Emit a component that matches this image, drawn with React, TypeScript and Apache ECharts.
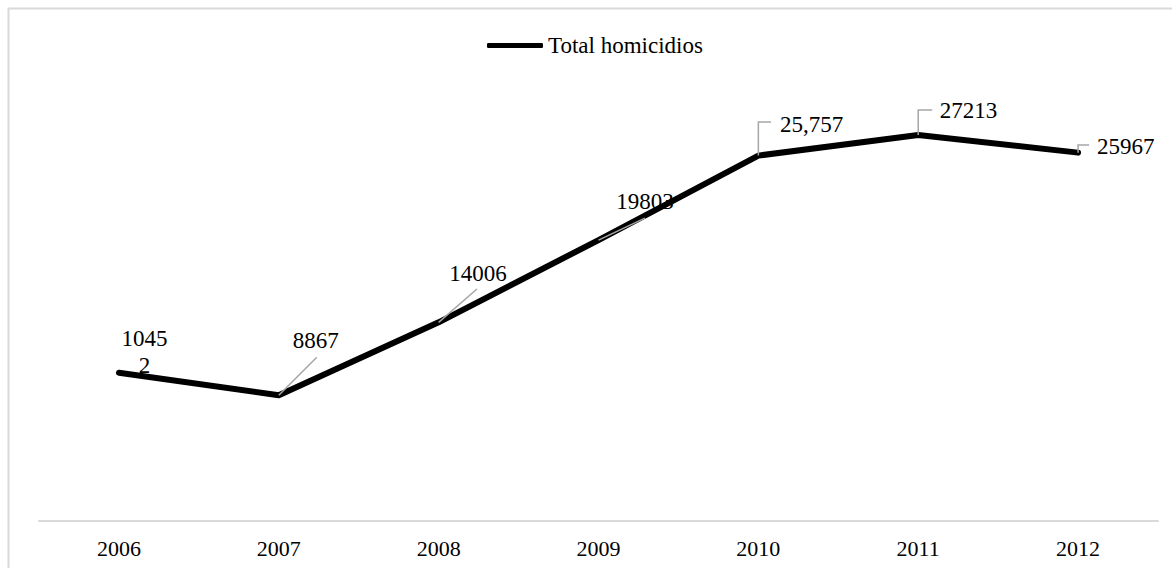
import React, { useEffect, useRef } from "react";
import * as echarts from "echarts";

const years = ["2006", "2007", "2008", "2009", "2010", "2011", "2012"];
const homicides = [10452, 8867, 14006, 19803, 25757, 27213, 25967];
const labelTexts = ["1045\n2", "8867", "14006", "19803", "25,757", "27213", "25967"];
const seriesName = "Total homicidios";

// label centre offsets from each point (px)
const labelOffsets: number[][] = [
  [25.5, -21],
  [37, -54.7],
  [39.3, -48.8],
  [46.4, -38.6],
  [53.2, -31.6],
  [50.4, -24.5],
  [47.6, -6.2],
];
// leader line shapes relative to each point (px)
const leaderShapes: (number[][] | null)[] = [
  null,
  [[0, 0], [38, -38]],
  [[0, 0], [38.3, -33.3]],
  [[0, 0], [46.4, -22]],
  [[0, 0], [0, -33.6], [12.6, -33.6]],
  [[0, 0], [0, -25], [14, -25]],
  [[0, 0], [0, -7.7], [11, -7.7]],
];

const FONT = "'Liberation Serif', 'Times New Roman', serif";

export default function App() {
  const ref = useRef<HTMLDivElement>(null);
  useEffect(() => {
    if (!ref.current) return;
    const chart = echarts.init(ref.current, null, { renderer: "svg" });
    const border = {
      type: "rect",
      shape: { x: 8.5, y: 8.5, width: 1250, height: 650 },
      style: { fill: null, stroke: "#d9d9d9", lineWidth: 2 },
      z: -10,
      silent: true,
    };
    chart.setOption({
      animation: false,
      backgroundColor: "#fff",
      grid: { left: 39, right: 14, top: 24.5, bottom: 47, containLabel: false },
      legend: {
        data: [{ name: seriesName, icon: "roundRect" }],
        left: 487,
        top: 34,
        padding: 0,
        itemWidth: 56,
        itemHeight: 5,
        itemGap: 5,
        textStyle: { fontFamily: FONT, fontSize: 23, color: "#000", padding: [2, 0, 0, 0] },
      },
      xAxis: {
        type: "category",
        data: years,
        boundaryGap: true,
        axisLine: { show: true, lineStyle: { color: "#d9d9d9", width: 2 } },
        axisTick: { show: false },
        axisLabel: { fontFamily: FONT, fontSize: 22, color: "#000", margin: 16 },
        splitLine: { show: false },
      },
      yAxis: { type: "value", min: 0, max: 35000, show: false },
      graphic: [border],
      series: [
        {
          name: seriesName,
          type: "line",
          color: "#000",
          symbol: "circle",
          symbolSize: 1,
          showSymbol: true,
          lineStyle: { width: 6, color: "#000", cap: "round", join: "round" },
          itemStyle: { color: "#000" },
          label: {
            show: true,
            position: "inside",
            align: "center",
            verticalAlign: "middle",
            fontFamily: FONT,
            fontSize: 23,
            lineHeight: 27,
            color: "#000",
          },
          data: homicides.map((v, i) => ({
            value: v,
            label: { formatter: labelTexts[i], offset: labelOffsets[i] },
          })),
          z: 2,
        },
      ],
    });
    const graphics: any[] = [border];
    homicides.forEach((v, i) => {
      const shape = leaderShapes[i];
      if (!shape) return;
      const p = chart.convertToPixel({ seriesIndex: 0 }, [i, v]) as number[];
      graphics.push({
        type: "polyline",
        shape: { points: shape.map(([dx, dy]) => [p[0] + dx, p[1] + dy]) },
        style: { stroke: "#a6a6a6", lineWidth: 1.5, fill: null },
        z: 100,
        silent: true,
      });
    });
    chart.setOption({ graphic: graphics });
    return () => chart.dispose();
  }, []);
  return (
    <div
      ref={ref}
      style={{ position: "absolute", left: 0, top: 0, width: 1172, height: 568, background: "#fff" }}
    />
  );
}
